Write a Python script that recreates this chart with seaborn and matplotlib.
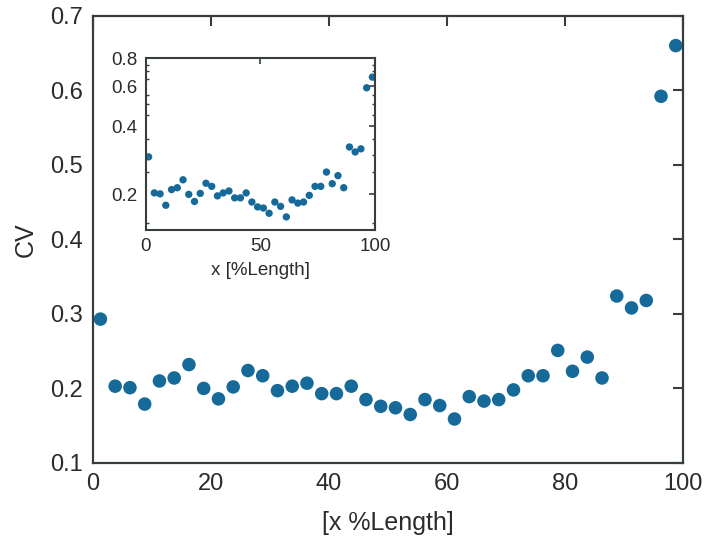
import matplotlib
matplotlib.use("Agg")
import matplotlib.pyplot as plt
import matplotlib.ticker as mticker
import seaborn as sns
import pandas as pd

x_pct = [1.25, 3.75, 6.25, 8.75, 11.25, 13.75, 16.25, 18.75, 21.25, 23.75,
         26.25, 28.75, 31.25, 33.75, 36.25, 38.75, 41.25, 43.75, 46.25, 48.75,
         51.25, 53.75, 56.25, 58.75, 61.25, 63.75, 66.25, 68.75, 71.25, 73.75,
         76.25, 78.75, 81.25, 83.75, 86.25, 88.75, 91.25, 93.75, 96.25, 98.75]
cv = [0.293, 0.203, 0.201, 0.179, 0.210, 0.214, 0.232, 0.200, 0.186, 0.202,
      0.224, 0.217, 0.197, 0.203, 0.207, 0.193, 0.193, 0.203, 0.185, 0.176,
      0.174, 0.165, 0.185, 0.177, 0.159, 0.189, 0.183, 0.185, 0.198, 0.217,
      0.217, 0.251, 0.223, 0.242, 0.214, 0.324, 0.308, 0.318, 0.592, 0.660]

main_xticks = [0, 20, 40, 60, 80, 100]
main_yticks = [0.1, 0.2, 0.3, 0.4, 0.5, 0.6, 0.7]
inset_xticks = [0, 50, 100]
inset_yticks = [0.2, 0.4, 0.6, 0.8]
inset_yminor = [0.15, 0.25, 0.3, 0.35, 0.45, 0.5, 0.55, 0.65, 0.7, 0.75]

df = pd.DataFrame({"x": x_pct, "cv": cv})

sns.set_theme(style="white")
plt.rcParams["font.family"] = ["Liberation Sans", "DejaVu Sans"]

DOT = "#156a99"
AX = "#383d3d"
TXT = "#2b2b2b"

fig = plt.figure(figsize=(7.05, 5.44), dpi=100)
ax = fig.add_axes([0.132, 0.149, 0.837, 0.822])
sns.scatterplot(data=df, x="x", y="cv", ax=ax, color=DOT, s=95,
                edgecolor="none", legend=False)
ax.set_xlim(0, 100)
ax.set_ylim(0.1, 0.7)
ax.set_xticks(main_xticks)
ax.set_yticks(main_yticks)
ax.set_yticklabels([f"{v:.1f}" for v in main_yticks])
ax.set_xlabel("[x %Length]", fontsize=18, color=TXT, labelpad=12)
ax.set_ylabel("CV", fontsize=18, color=TXT, labelpad=9)
ax.tick_params(axis="both", direction="in", length=7, width=1.5, color=AX,
               labelsize=17, labelcolor=TXT, top=True, right=True, pad=7)
for sp in ax.spines.values():
    sp.set_visible(True)
    sp.set_color(AX)
    sp.set_linewidth(1.6)

ins = fig.add_axes([0.2067, 0.577, 0.3256, 0.316])
sns.scatterplot(data=df, x="x", y="cv", ax=ins, color=DOT, s=28,
                edgecolor="none", legend=False)
ins.set_yscale("log")
ins.set_xlim(0, 100)
ins.set_ylim(0.139, 0.8)
ins.yaxis.set_major_locator(mticker.FixedLocator(inset_yticks))
ins.yaxis.set_major_formatter(mticker.FixedFormatter([f"{v:.1f}" for v in inset_yticks]))
ins.yaxis.set_minor_locator(mticker.FixedLocator(inset_yminor))
ins.yaxis.set_minor_formatter(mticker.NullFormatter())
ins.set_xticks(inset_xticks)
ins.set_xlabel("x [%Length]", fontsize=13.5, color=TXT, labelpad=5)
ins.set_ylabel("")
ins.tick_params(axis="both", which="major", direction="in", length=4, width=1.2,
                color=AX, labelsize=13.5, labelcolor=TXT, top=True, right=True, pad=6)
ins.tick_params(axis="y", which="minor", direction="in", length=2.5, width=1.0,
                color=AX, left=True, right=True)
for sp in ins.spines.values():
    sp.set_visible(True)
    sp.set_color(AX)
    sp.set_linewidth(1.5)

fig.savefig("out.png", dpi=100)
